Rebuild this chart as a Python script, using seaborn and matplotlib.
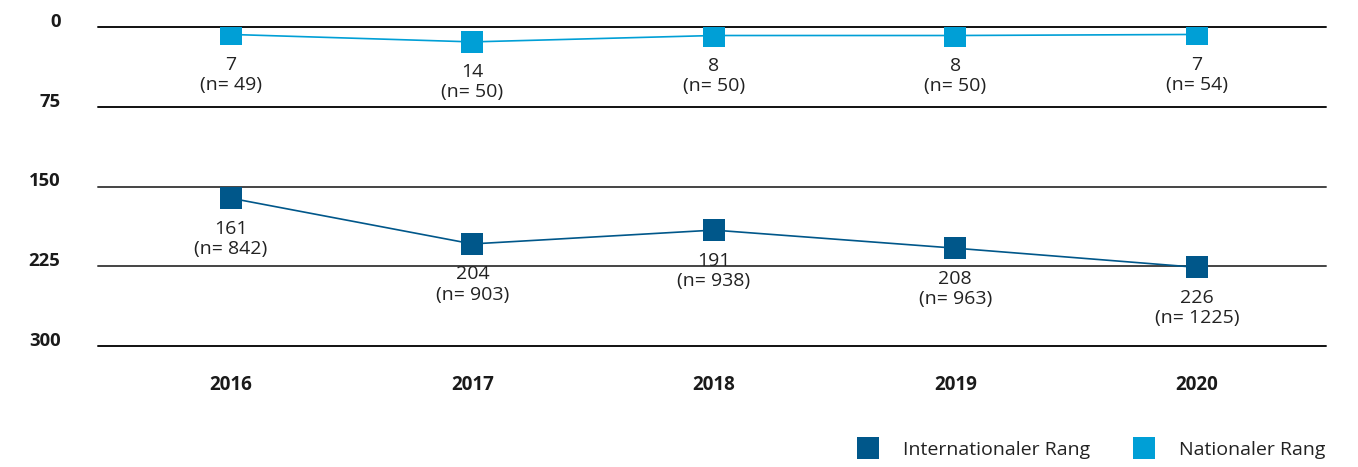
import matplotlib
matplotlib.use("Agg")
import matplotlib.pyplot as plt
from matplotlib.lines import Line2D
import seaborn as sns
import pandas as pd

years = ["2016", "2017", "2018", "2019", "2020"]
intl_rank = [161, 204, 191, 208, 226]
intl_n = [842, 903, 938, 963, 1225]
nat_rank = [7, 14, 8, 8, 7]
nat_n = [49, 50, 50, 50, 54]
series_names = ["Internationaler Rang", "Nationaler Rang"]
yticks = [0, 75, 150, 225, 300]

c_intl = "#00578A"
c_nat = "#009FD6"

sns.set_theme(style="white")
plt.rcParams["font.family"] = ["Open Sans", "DejaVu Sans"]

df = pd.DataFrame({
    "idx": list(range(len(years))) * 2,
    "rank": intl_rank + nat_rank,
    "series": [series_names[0]] * len(years) + [series_names[1]] * len(years),
})

fig = plt.figure(figsize=(13.58, 4.67), dpi=100)
ax = fig.add_axes([98 / 1358, 1 - 346 / 467, (1326 - 98) / 1358, (346 - 27) / 467])

sns.lineplot(data=df, x="idx", y="rank", hue="series",
             palette={series_names[0]: c_intl, series_names[1]: c_nat},
             marker="s", markersize=16.5, markeredgewidth=0, linewidth=1.2,
             ax=ax, legend=False, zorder=3)

ax.set_ylim(300, 0)
ax.set_xlim(-0.55, 4.535)
ax.set_yticks(yticks)
ax.set_yticklabels([str(t) for t in yticks], fontweight="bold", fontsize=13.3, color="#1a1a1a")
for lab in ax.get_yticklabels():
    lab.set_va("baseline")
ax.set_xticks(range(len(years)))
ax.set_xticklabels(years, fontweight="bold", fontsize=13.5, color="#1a1a1a")
ax.tick_params(axis="x", length=0, pad=21)
ax.tick_params(axis="y", length=0, pad=27)
ax.set_xlabel("")
ax.set_ylabel("")
for s in ax.spines.values():
    s.set_visible(False)

grid_colors = ["#111111", "#111111", "#444444", "#444444", "#111111"]
for t, gc in zip(yticks, grid_colors):
    ax.axhline(t, color=gc, lw=1.4, zorder=1, clip_on=False)

for i in range(len(years)):
    ax.annotate(f"{nat_rank[i]}\n(n= {nat_n[i]})", (i, nat_rank[i]), xytext=(0, -15.5),
                textcoords="offset points", ha="center", va="top", fontsize=14,
                color="#222222", linespacing=1.12)
    ax.annotate(f"{intl_rank[i]}\n(n= {intl_n[i]})", (i, intl_rank[i]), xytext=(0, -15.5),
                textcoords="offset points", ha="center", va="top", fontsize=14,
                color="#222222", linespacing=1.15)

handles = [Line2D([], [], marker="s", linestyle="none", markersize=16.5,
                  markeredgewidth=0, color=c) for c in (c_intl, c_nat)]
fig.legend(handles, series_names, loc="center right", bbox_to_anchor=(1343 / 1358, 1 - 450 / 467),
           ncol=2, frameon=False, fontsize=14, handletextpad=1.2, columnspacing=2.2,
           handlelength=1.2, labelcolor="#222222")

fig.savefig("out.png", dpi=100)
